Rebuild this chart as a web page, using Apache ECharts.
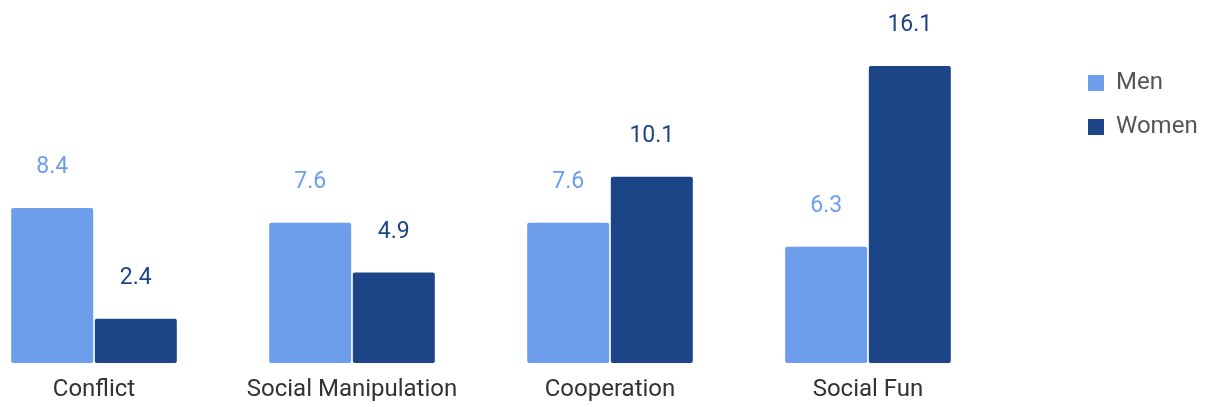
<!DOCTYPE html>
<html>
<head>
<meta charset="utf-8">
<script src="https://cdn.jsdelivr.net/npm/echarts@6/dist/echarts.min.js"></script>
<style>
  html, body { margin: 0; padding: 0; background: #fff; }
  #chart { width: 1209px; height: 407px; }
</style>
</head>
<body>
<div id="chart"></div>
<script>
// 数据
const categories = ['Conflict', 'Social Manipulation', 'Cooperation', 'Social Fun'];
const menValues = [8.4, 7.6, 7.6, 6.3];
const womenValues = [2.4, 4.9, 10.1, 16.1];

const menColor = '#6d9eeb';
const womenColor = '#1c4587';

const chart = echarts.init(document.getElementById('chart'));
const option = {
    animation: false,
    textStyle: { fontFamily: 'Roboto' },
    legend: {
        orient: 'vertical',
        left: 1083,
        top: 66,
        itemWidth: 16,
        itemHeight: 16,
        itemGap: 20,
        icon: 'rect',
        textStyle: { fontSize: 24, color: '#555', fontFamily: 'Roboto', padding: [0, 0, 0, 7] },
        data: ['Men', 'Women']
    },
    grid: {
        left: -35,
        width: 1032,
        top: 31,
        bottom: 44,
        containLabel: false,
        outerBoundsMode: 'none'
    },
    xAxis: {
        type: 'category',
        data: categories,
        axisLine: { show: false },
        axisTick: { show: false },
        axisLabel: { interval: 0, fontSize: 24, color: '#333', margin: 15, fontFamily: 'Roboto' }
    },
    yAxis: {
        type: 'value',
        min: 0,
        max: 18,
        show: false,
        splitLine: { show: false }
    },
    series: [
        {
            name: 'Men',
            type: 'bar',
            data: menValues,
            barWidth: 82,
            barGap: '2%',
            itemStyle: { color: menColor, borderRadius: 2 },
            label: { show: true, position: 'top', distance: 29, fontSize: 23, color: menColor }
        },
        {
            name: 'Women',
            type: 'bar',
            data: womenValues,
            barWidth: 82,
            itemStyle: { color: womenColor, borderRadius: 2 },
            label: { show: true, position: 'top', distance: 29, fontSize: 23, color: womenColor }
        }
    ]
};
chart.setOption(option);
</script>
</body>
</html>
